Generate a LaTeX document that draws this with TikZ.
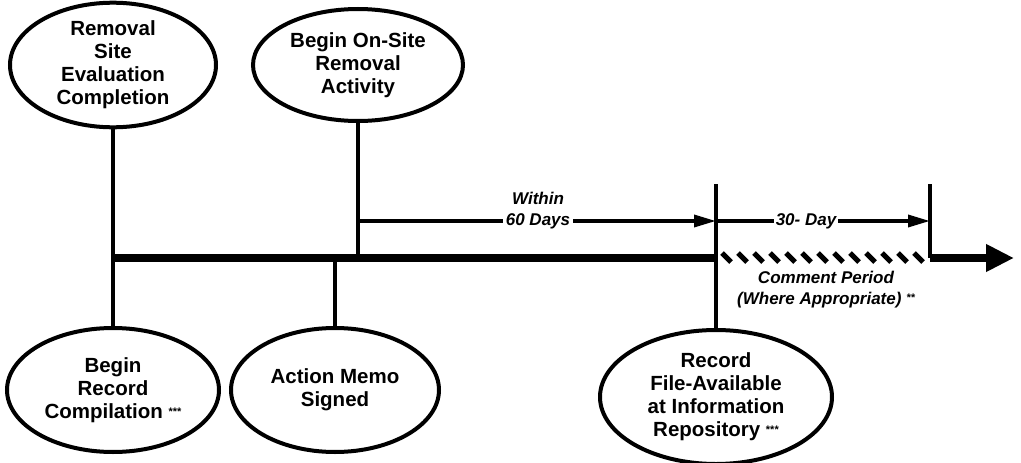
\documentclass[tikz,border=0pt]{standalone}
\usepackage{fontspec}
\setmainfont{Liberation Sans}
\usetikzlibrary{shapes.geometric,arrows.meta}
\newcommand{\starsmark}[1]{\raisebox{3pt}{\fontsize{11}{11}\selectfont #1}}
\begin{document}
\begin{tikzpicture}[x=1pt,y=-1pt,
  ev/.style={ellipse,draw,line width=4pt,inner sep=0pt,align=center,
    font=\fontsize{20.5}{23}\selectfont\bfseries},
  lab/.style={font=\fontsize{17}{21}\selectfont\bfseries\itshape,align=center,inner sep=3pt},
  stem/.style={line width=4.5pt},
  dur/.style={line width=3.5pt,-{Triangle[length=22pt,width=12pt]}},
  hatch/.style={line width=5pt},
]
\useasboundingbox (0,0) rectangle (1021,463);

% event ellipses
\node[ev,minimum width=206pt,minimum height=116pt] (E1) at (113,65)
  {Removal\\Site\\Evaluation\\Completion};
\node[ev,minimum width=210pt,minimum height=112pt] (E2) at (358,65)
  {Begin On-Site\\Removal\\Activity};
\node[ev,minimum width=212pt,minimum height=124pt] (B1) at (113,390)
  {Begin\\Record\\Compilation \starsmark{***}};
\node[ev,minimum width=208pt,minimum height=124pt] (B2) at (335,390)
  {Action Memo\\Signed};
\node[ev,minimum width=232pt,minimum height=134pt] (B3) at (716,397)
  {Record\\File-Available\\at Information\\Repository \starsmark{***}};

% timeline coordinates
\coordinate (T0) at (0,258);
\coordinate (Ts) at (111,258);
\coordinate (Tm) at (716,258);
\coordinate (Tr) at (930,258);
\coordinate (Tend) at (1014,258);
\coordinate (V3) at (716,184);
\coordinate (V4) at (930,184);

% stems
\draw[stem] (E1.south) -- (B1.north);
\draw[stem] (E2.south) -- (E2.south |- T0);
\draw[stem] (B2.north) -- (B2.north |- T0);
\draw[stem] (B3.north) -- (V3);
\draw[stem] (V4) -- (Tr);

% main timeline
\draw[line width=8pt] (Ts) -- (Tm);
\draw[line width=8pt,-{Triangle[length=28pt,width=26pt]}] (Tr) -- (Tend);
\foreach \i in {0,...,12}
  \draw[hatch] (722+\i*16,253) -- ++(9,9);

% duration arrows
\coordinate (A1s) at (358,221);
\coordinate (A1e) at (716,221);
\coordinate (A2s) at (716,221);
\coordinate (A2e) at (930,221);
\draw[dur] (A1s) -- (A1e);
\draw[dur] (A2s) -- (A2e);
\node[lab,fill=white] (L1) at (538,211) {Within\\60 Days};
\node[lab,fill=white,inner sep=2pt] (L2) at (806,221) {30- Day};
\node[lab] (L3) at (826,290) {Comment Period\\(Where Appropriate) \starsmark{**}};
\end{tikzpicture}
\end{document}
